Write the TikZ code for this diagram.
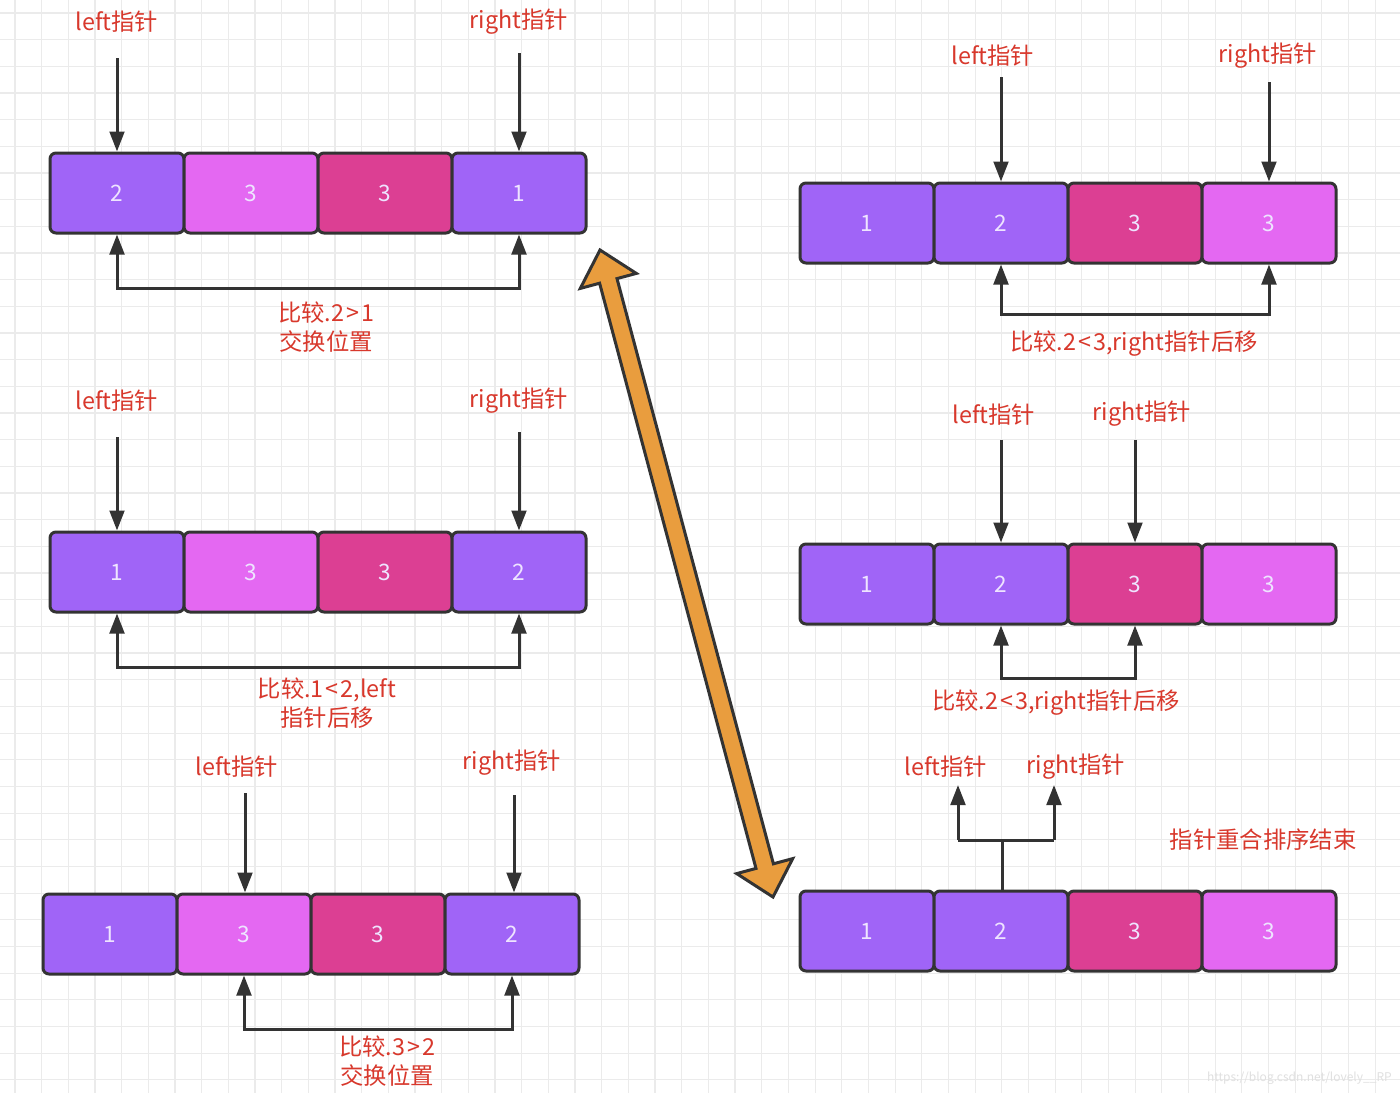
\documentclass[tikz,border=0pt]{standalone}
\usepackage{fontspec}
\setmainfont{Noto Sans CJK SC}
\usetikzlibrary{arrows.meta,calc}
\definecolor{edge}{HTML}{333333}
\definecolor{purp}{HTML}{A064F7}
\definecolor{mag}{HTML}{E468F2}
\definecolor{dpink}{HTML}{DC3F93}
\definecolor{numtext}{HTML}{EEE4FF}
\definecolor{lblred}{HTML}{D8382C}
\definecolor{gridc}{HTML}{EBEBEB}
\definecolor{orangef}{HTML}{E99D3E}
\newcommand{\cmpsym}[1]{\kern1.5pt#1\kern1.5pt}
\tikzset{
  cell/.style={draw=edge, line width=2.25pt, rounded corners=4.5pt,
    minimum width=100.5pt, minimum height=60pt, inner sep=0pt,
    text=numtext, font=\fontsize{17}{17}\selectfont},
  pu/.style={cell, fill=purp},
  mg/.style={cell, fill=mag},
  dp/.style={cell, fill=dpink},
  lbl/.style={text=lblred, font=\fontsize{17.5}{21.75}\selectfont, align=center, inner sep=0pt},
  ptr/.style={draw=edge, line width=2.25pt, -{Triangle[length=15pt,width=11pt]}},
  cmp/.style={draw=edge, line width=2.25pt, {Triangle[length=15pt,width=11pt]}-{Triangle[length=15pt,width=11pt]}},
  link/.style={draw=edge, line width=2.25pt},
}
\begin{document}
\begin{tikzpicture}[x=0.75pt,y=-0.75pt]
\useasboundingbox (0,0) rectangle (1400,1093);
\fill[white] (0,0) rectangle (1400,1093);
% grid
\foreach \i in {0,...,52} {
  \draw[gridc, line width=0.9pt] ({15+26.67*\i},0) -- ({15+26.67*\i},1093);
}
\foreach \i in {0,...,40} {
  \draw[gridc, line width=0.9pt] (0,{13+26.67*\i}) -- (1400,{13+26.67*\i});
}

% ---------- Left group 1 ----------
\node[pu] (a1) at (117,193) {2};
\node[mg] (a2) at (251,193) {3};
\node[dp] (a3) at (385,193) {3};
\node[pu] (a4) at (519,193) {1};
\node[lbl] (al) at (117,22) {left指针};
\node[lbl] (ar) at (519,22) {right指针};
\coordinate (alp) at (117,58);
\coordinate (arp) at (519,53);
\draw[ptr] (alp) -- (a1.north);
\draw[ptr] (arp) -- (a4.north);
\draw[cmp] (a1.south) -- ($(a1.south)+(0,54)$) -| (a4.south);
\node[lbl] (ac) at (326,327) {比较.2\cmpsym{>}1\\交换位置};

% ---------- Left group 2 ----------
\node[pu] (b1) at (117,572) {1};
\node[mg] (b2) at (251,572) {3};
\node[dp] (b3) at (385,572) {3};
\node[pu] (b4) at (519,572) {2};
\node[lbl] (bl) at (117,401) {left指针};
\node[lbl] (br) at (519,401) {right指针};
\coordinate (blp) at (117,437);
\coordinate (brp) at (519,432);
\draw[ptr] (blp) -- (b1.north);
\draw[ptr] (brp) -- (b4.north);
\draw[cmp] (b1.south) -- ($(b1.south)+(0,54)$) -| (b4.south);
\node[lbl] (bc) at (327,703) {比较.1\cmpsym{<}2,left\\指针后移};

% ---------- Left group 3 ----------
\node[pu] (c1) at (110,934) {1};
\node[mg] (c2) at (244,934) {3};
\node[dp] (c3) at (378,934) {3};
\node[pu] (c4) at (512,934) {2};
\node[lbl] (cl) at (237,767) {left指针};
\node[lbl] (cr) at (512,763) {right指针};
\coordinate (clp) at (245,793);
\coordinate (crp) at (514,795);
\draw[ptr] (clp) -- (clp |- c2.north);
\draw[ptr] (crp) -- (crp |- c4.north);
\draw[cmp] (c2.south) -- ($(c2.south)+(0,54)$) -| (c4.south);
\node[lbl] (cc) at (387,1061) {比较.3\cmpsym{>}2\\交换位置};

% ---------- Right group 1 ----------
\node[pu] (d1) at (867,223) {1};
\node[pu] (d2) at (1001,223) {2};
\node[dp] (d3) at (1135,223) {3};
\node[mg] (d4) at (1269,223) {3};
\node[lbl] (dl) at (993,56) {left指针};
\node[lbl] (dr) at (1268,56) {right指针};
\coordinate (dlp) at (1001,77);
\coordinate (drp) at (1269,82);
\draw[ptr] (dlp) -- (d2.north);
\draw[ptr] (drp) -- (d4.north);
\draw[cmp] (d2.south) -- ($(d2.south)+(0,50)$) -| (d4.south);
\node[lbl] (dc) at (1134,344) {比较.2\cmpsym{<}3,right指针后移};

% ---------- Right group 2 ----------
\node[pu] (e1) at (867,584) {1};
\node[pu] (e2) at (1001,584) {2};
\node[dp] (e3) at (1135,584) {3};
\node[mg] (e4) at (1269,584) {3};
\node[lbl] (el) at (994,415) {left指针};
\node[lbl] (er) at (1142,414) {right指针};
\coordinate (elp) at (1001,440);
\coordinate (erp) at (1135,440);
\draw[ptr] (elp) -- (e2.north);
\draw[ptr] (erp) -- (e3.north);
\draw[cmp] (e2.south) -- ($(e2.south)+(0,53)$) -| (e3.south);
\node[lbl] (ec) at (1056,703) {比较.2\cmpsym{<}3,right指针后移};

% ---------- Right group 3 ----------
\node[pu] (f1) at (867,931) {1};
\node[pu] (f2) at (1001,931) {2};
\node[dp] (f3) at (1135,931) {3};
\node[mg] (f4) at (1269,931) {3};
\node[lbl] (fl) at (946,767) {left指针};
\node[lbl] (fr) at (1076,767) {right指针};
\coordinate (fj) at (1002,840);
\coordinate (fla) at (958,840);
\coordinate (fra) at (1054,840);
\coordinate (flt) at (958,785);
\coordinate (frt) at (1054,785);
\draw[link] (f2.north -| fj) -- (fj);
\draw[link] (fla) -- (fra);
\draw[ptr] (fla) -- (flt);
\draw[ptr] (fra) -- (frt);
\node[lbl] (fc) at (1263,840) {指针重合排序结束};

% ---------- orange double arrow ----------
\draw[fill=orangef, draw=edge, line width=2.25pt, line join=miter]
  (600,250) -- (636.3,273.4) -- (617.0,278.6) -- (773.4,863.8) -- (792.7,858.6)
  -- (773,897) -- (736.7,873.6) -- (756.0,868.4) -- (599.6,283.2) -- (580.3,288.4) -- cycle;

% watermark
\node[text=black!12, font=\fontsize{9}{9}\selectfont, anchor=east, inner sep=0pt] (wm) at (1392,1078) {https://blog.csdn.net/lovely\_\_RP};
\end{tikzpicture}
\end{document}
